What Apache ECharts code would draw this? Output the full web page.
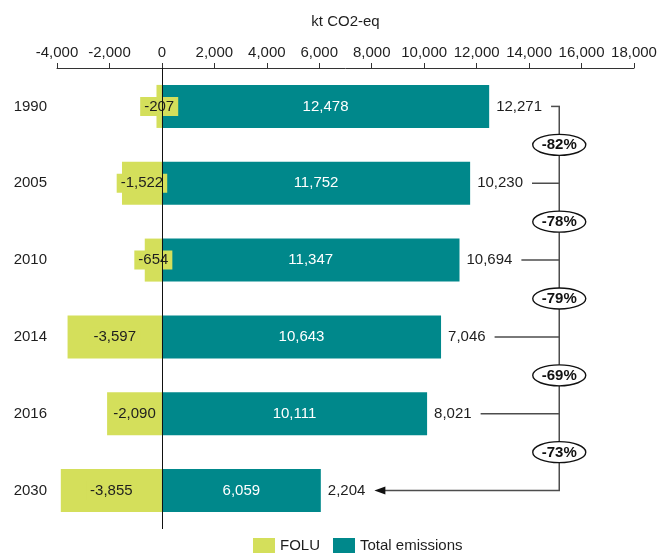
<!DOCTYPE html>
<html>
<head>
<meta charset="utf-8">
<script src="https://cdn.jsdelivr.net/npm/echarts@6/dist/echarts.min.js"></script>
<style>
  html, body { margin: 0; padding: 0; background: #fff; }
  #chart { width: 672px; height: 553px; }
</style>
</head>
<body>
<div id="chart"></div>
<script>
// Emissions by year, kt CO2-eq
const years = ['1990', '2005', '2010', '2014', '2016', '2030'];
const folu = [-207, -1522, -654, -3597, -2090, -3855];
const totalEmissions = [12478, 11752, 11347, 10643, 10111, 6059];
const netEmissions = [12271, 10230, 10694, 7046, 8021, 2204];
// change from each year to 2030
const changeTo2030 = ['-82%', '-78%', '-79%', '-69%', '-73%'];
const xTicks = { min: -4000, max: 18000, step: 2000 };

const FONT = '"Liberation Sans", Arial, Helvetica, sans-serif';
const FOLU_COLOR = '#d4df5b';
const TOTAL_COLOR = '#00888b';
const INK = '#1e1e1e';
const SPINE_X = 15150; // bracket spine, in axis units
const fmt = v => echarts.format.addCommas(v);

const measureCtx = document.createElement('canvas').getContext('2d');
measureCtx.font = '15px ' + FONT;
const textWidth = s => measureCtx.measureText(s).width;

const chart = echarts.init(document.getElementById('chart'), null, { renderer: 'canvas' });

function renderBracket(params, api) {
  const i = params.dataIndex;
  const last = years.length - 1;
  const p = api.coord([api.value(0), i]);
  const spineX = api.coord([SPINE_X, i])[0];
  const label = fmt(api.value(2));
  const tx = p[0] + 7;
  const tEnd = tx + textWidth(label);
  const lineStyle = { stroke: '#4d4d4d', lineWidth: 1.5 };
  const children = [{
    type: 'text',
    style: { text: label, x: tx, y: p[1], align: 'left', verticalAlign: 'middle',
             fontSize: 15, fontFamily: FONT, fill: INK }
  }];
  if (i < last) {
    children.push({ type: 'line', shape: { x1: tEnd + 9, y1: p[1], x2: spineX + 0.75, y2: p[1] }, style: lineStyle });
  } else {
    const tip = tEnd + 9;
    children.push({ type: 'line', shape: { x1: spineX + 0.75, y1: p[1], x2: tip + 8, y2: p[1] }, style: lineStyle });
    children.push({ type: 'polygon', shape: { points: [[tip, p[1]], [tip + 11, p[1] - 4], [tip + 11, p[1] + 4]] },
                    style: { fill: '#111' } });
  }
  if (i === 0) {
    const yEnd = api.coord([SPINE_X, last])[1];
    children.push({ type: 'line', shape: { x1: spineX, y1: p[1], x2: spineX, y2: yEnd }, style: lineStyle });
  }
  if (i < last) {
    const yNext = api.coord([SPINE_X, i + 1])[1];
    const cy = (p[1] + yNext) / 2;
    children.push({
      type: 'ellipse', z2: 10,
      shape: { cx: spineX, cy: cy, rx: 26.5, ry: 10.5 },
      style: { fill: '#fff', stroke: '#111', lineWidth: 1.4 }
    });
    children.push({
      type: 'text', z2: 11,
      style: { text: changeTo2030[i], x: spineX, y: cy + 0.5, align: 'center', verticalAlign: 'middle',
               fontSize: 15, fontWeight: 'bold', fontFamily: FONT, fill: '#111' }
    });
  }
  return { type: 'group', children: children };
}

chart.setOption({
  animation: false,
  textStyle: { fontFamily: FONT },
  grid: { left: 57, right: 38, top: 68, bottom: 24, containLabel: false },
  legend: {
    data: ['FOLU', 'Total emissions'],
    left: 248, top: 533,
    itemWidth: 22, itemHeight: 15, itemGap: 13,
    icon: 'rect',
    textStyle: { fontSize: 15, color: INK, fontFamily: FONT }
  },
  xAxis: {
    type: 'value',
    position: 'top',
    min: xTicks.min, max: xTicks.max, interval: xTicks.step,
    name: 'kt CO2-eq',
    nameLocation: 'middle',
    nameGap: 39,
    nameTextStyle: { fontSize: 15, color: INK, fontFamily: FONT },
    axisLine: { show: true, onZero: false, lineStyle: { color: '#333', width: 1 } },
    axisTick: { show: true, inside: false, length: 5, lineStyle: { color: '#333' } },
    axisLabel: { fontSize: 15, color: INK, margin: 8, formatter: v => fmt(v) },
    splitLine: { show: false }
  },
  yAxis: {
    type: 'category',
    inverse: true,
    data: years,
    axisLine: { show: false },
    axisTick: { show: false },
    axisLabel: { fontSize: 15, color: INK, margin: 10 }
  },
  series: [
    {
      name: 'FOLU',
      type: 'bar',
      stack: 'net',
      barCategoryGap: '44%',
      data: folu,
      itemStyle: { color: FOLU_COLOR },
      label: {
        show: true, position: 'inside', fontSize: 15, color: INK,
        backgroundColor: FOLU_COLOR, padding: [2, 4],
        formatter: p => fmt(p.value)
      },
      markLine: {
        silent: true, symbol: 'none', animation: false,
        label: { show: false },
        lineStyle: { color: '#111', width: 1, type: 'solid' },
        data: [{ xAxis: 0 }]
      }
    },
    {
      name: 'Total emissions',
      type: 'bar',
      stack: 'net',
      data: totalEmissions,
      itemStyle: { color: TOTAL_COLOR },
      label: {
        show: true, position: 'inside', fontSize: 15, color: '#fff',
        formatter: p => fmt(p.value)
      }
    },
    {
      type: 'custom',
      silent: true,
      renderItem: renderBracket,
      data: years.map((y, i) => [totalEmissions[i], i, netEmissions[i]]),
      z: 5
    }
  ]
});
</script>
</body>
</html>
